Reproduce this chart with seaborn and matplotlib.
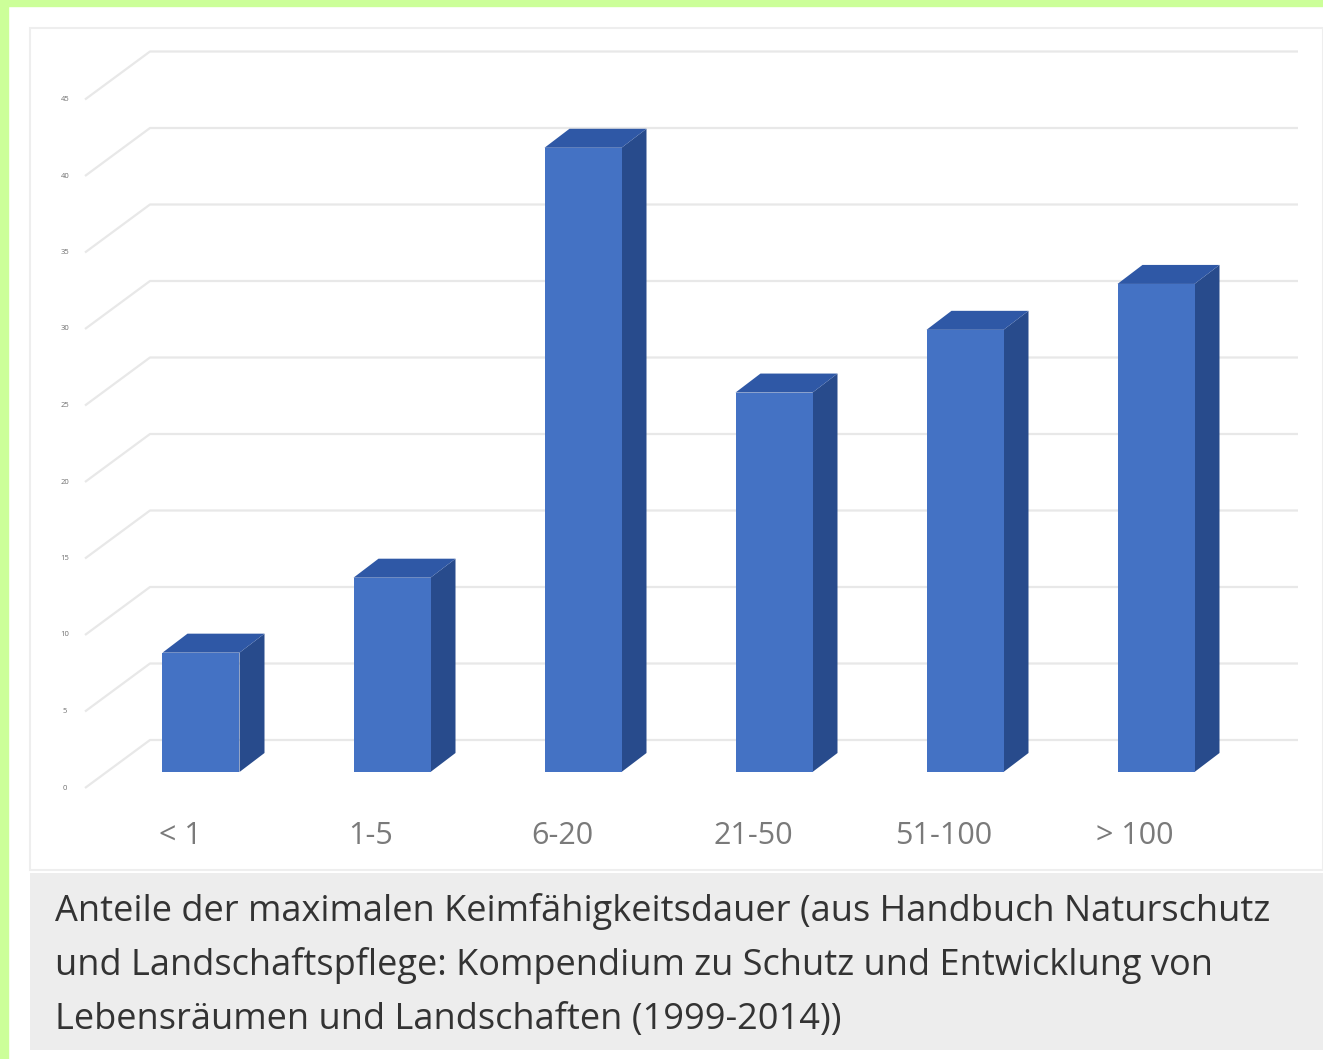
import matplotlib as mlp
mlp.use('Agg')
import matplotlib.pyplot as plt
from matplotlib.patches import Rectangle, Polygon
import pandas as pd
import seaborn as sns

# data
categories = ['< 1', '1-5', '6-20', '21-50', '51-100', '> 100']
values = [7.8, 12.7, 40.8, 24.8, 28.9, 31.9]
yticks = [0, 5, 10, 15, 20, 25, 30, 35, 40, 45]
caption = ['Anteile der maximalen Keimfähigkeitsdauer (aus Handbuch Naturschutz',
           'und Landschaftspflege: Kompendium zu Schutz und Entwicklung von',
           'Lebensräumen und Landschaften (1999-2014))']

df = pd.DataFrame({'cat': categories, 'val': values})

W, H = 1323, 1059
sns.set_theme(style='white')
plt.rcParams['font.family'] = ['Open Sans', 'DejaVu Sans']

fig = plt.figure(figsize=(W / 100, H / 100), dpi=100)
fig.patch.set_facecolor('white')

#>> page decoration (green border, chart frame, grey caption box)
fig.patches.append(Rectangle((0, 0), 8 / W, 1, transform=fig.transFigure, color='#ccff99', zorder=0))
fig.patches.append(Rectangle((0, 1 - 6 / H), 1, 6 / H, transform=fig.transFigure, color='#ccff99', zorder=0))
fig.patches.append(Rectangle((30 / W, 1 - 870 / H), 1293 / W, 842 / H, transform=fig.transFigure,
                             facecolor='white', edgecolor='#eeeeee', lw=1.5, zorder=0))
fig.patches.append(Rectangle((30 / W, 1 - 1050 / H), 1293 / W, 177 / H, transform=fig.transFigure,
                             facecolor='#ededed', edgecolor='none', zorder=0))

ax = fig.add_axes([0, 0, 1, 1])
ax.set_zorder(2)
ax.patch.set_alpha(0)

# pixel scale: 191 px per category, 15.3 px per unit
px_x, px_y = 191.0, 15.3
bw = 77 / px_x
dx, dy = 25 / px_x, 19 / px_y

sns.barplot(data=df, x='cat', y='val', width=bw, color='#4472c4', saturation=1,
            ax=ax, zorder=3, linewidth=0)

ax.set_xlim(-201 / px_x, (W - 201) / px_x)
ax.set_ylim(-(H - 772) / px_y, 772 / px_y)
ax.axis('off')

#>> perspective gridlines + tick labels
back = 32 / px_y
for t in yticks:
    x0, x1, x2 = -116 / px_x, -51 / px_x, 1097 / px_x
    ax.plot([x0, x1, x2], [t - 16 / px_y, t + back, t + back], color='#e8e8e8', lw=1.6,
            zorder=1, solid_capstyle='butt')
    ax.text(-136 / px_x, t - 16 / px_y, str(t), fontsize=5.5, color='#707070',
            ha='center', va='center')

#>> 3D faces of the bars
for i, v in enumerate(values):
    l, r = i - bw / 2, i + bw / 2
    ax.add_patch(Polygon([(r, 0), (r + dx, dy), (r + dx, v + dy), (r, v)],
                         closed=True, facecolor='#284b8c', edgecolor='none', zorder=2))
    ax.add_patch(Polygon([(l, v), (l + dx, v + dy), (r + dx, v + dy), (r, v)],
                         closed=True, facecolor='#2f58a6', edgecolor='none', zorder=2))
    ax.text(i - 21 / px_x, -64 / px_y, categories[i], fontsize=22, color='#7a7a7a',
            ha='center', va='center')

#>> caption
for k, line in enumerate(caption):
    fig.text(55 / W, 1 - (912 + 54 * k) / H, line, fontsize=26, color='#333333',
             ha='left', va='center')

fig.savefig('out.png', dpi=100)
